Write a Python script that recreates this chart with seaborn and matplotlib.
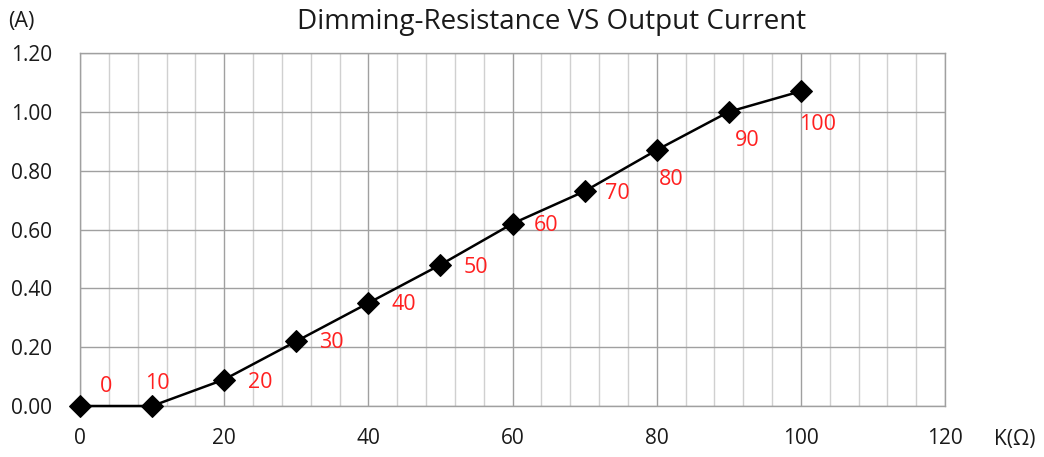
import matplotlib
matplotlib.use("Agg")
import matplotlib.pyplot as plt
from matplotlib.ticker import MultipleLocator
import pandas as pd
import seaborn as sns

# resistance (kOhm) vs output current (A)
resistance = [0, 10, 20, 30, 40, 50, 60, 70, 80, 90, 100]
current = [0.00, 0.00, 0.09, 0.22, 0.35, 0.48, 0.62, 0.73, 0.87, 1.00, 1.07]
point_labels = ["0", "10", "20", "30", "40", "50", "60", "70", "80", "90", "100"]
x_ticks = [0, 20, 40, 60, 80, 100, 120]
y_ticks = [0.0, 0.2, 0.4, 0.6, 0.8, 1.0, 1.2]

# label offsets in points (Excel-style data label placement)
label_offsets = [(14, 14), (-5, 16.5), (17.5, -2), (16.5, -1), (16.5, -1), (16.5, -2),
                 (15, -1.5), (15, -1.5), (1.5, -21.5), (4.5, -21), (-1, -24)]

sns.set_style("white")
plt.rcParams["font.family"] = ["Open Sans", "DejaVu Sans"]

df = pd.DataFrame({"resistance": resistance, "current": current})

fig = plt.figure(figsize=(10.44, 4.57), dpi=100)
ax = fig.add_axes([80 / 1044, 1 - 406 / 457, 865 / 1044, 353 / 457])

sns.lineplot(data=df, x="resistance", y="current", ax=ax, color="black", lw=1.8,
             marker="D", markersize=11.5, markeredgecolor="black", zorder=5, clip_on=False)

for x, y, txt, off in zip(resistance, current, point_labels, label_offsets):
    ax.annotate(txt, (x, y), xytext=off, textcoords="offset points", color="#ff2020",
                fontsize=15.5, ha="left", va="center")

ax.set_xlim(0, 120)
ax.set_ylim(0, 1.2)
ax.set_xticks(x_ticks)
ax.set_yticks(y_ticks)
ax.set_yticklabels([f"{v:.2f}" for v in y_ticks])
ax.xaxis.set_minor_locator(MultipleLocator(4))
ax.grid(True, which="major", color="#a0a0a0", lw=1.0)
ax.grid(True, which="minor", axis="x", color="#d0d0d0", lw=1.0)
ax.set_axisbelow(True)
ax.tick_params(axis="both", which="major", labelsize=15, labelcolor="#1a1a1a",
               length=5, width=1, direction="out", color="#a0a0a0")
ax.tick_params(axis="x", pad=11)
ax.tick_params(axis="y", pad=15)
ax.tick_params(which="minor", length=0)
for side in ["left", "bottom", "right", "top"]:
    ax.spines[side].set_color("#a0a0a0")
    ax.spines[side].set_linewidth(1.0)
ax.set_xlabel("")
ax.set_ylabel("")

fig.text(552 / 1044, 1 - 22 / 457, "Dimming-Resistance VS Output Current", ha="center",
         va="center", fontsize=20, color="#1a1a1a")
fig.text(8 / 1044, 1 - 21 / 457, "(A)", ha="left", va="center", fontsize=15.5, color="#1a1a1a")
fig.text(994 / 1044, 1 - 439 / 457, "K(Ω)", ha="left", va="center", fontsize=15, color="#1a1a1a")

fig.savefig("out.png", dpi=100)
